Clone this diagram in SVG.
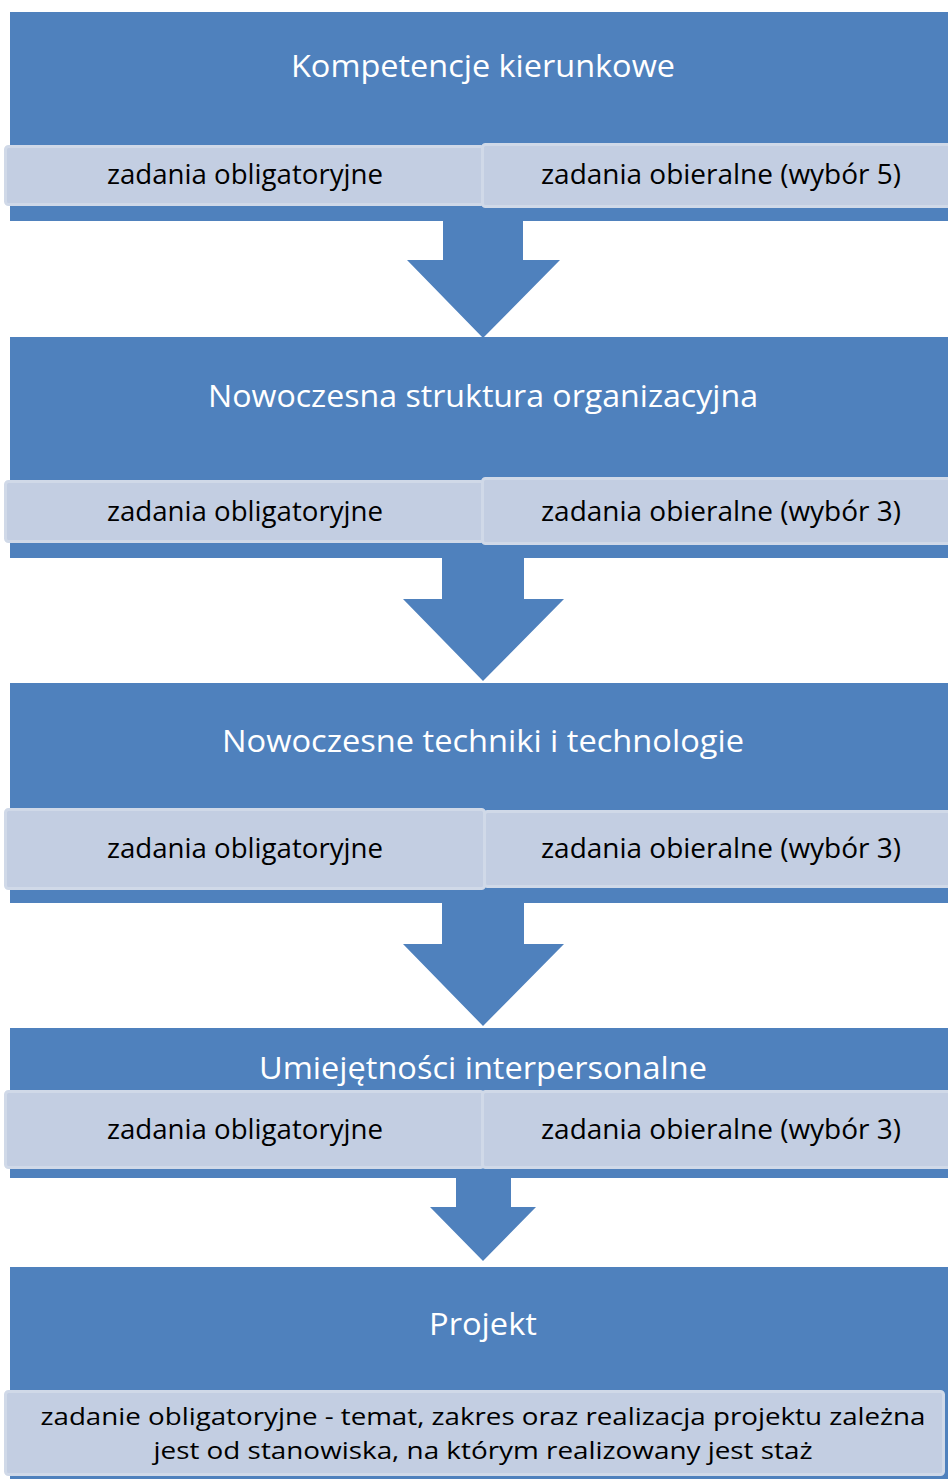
<svg xmlns="http://www.w3.org/2000/svg" width="948" height="1479" viewBox="0 0 948 1479">
<style>
.blk{fill:#4F81BD}
.sub{fill:#C3CEE2;stroke:#D0D9E8;stroke-width:3}
.arr{fill:#4F81BD}
.t{font-family:"Open Sans","Liberation Sans",sans-serif;fill:#FFFFFF;text-anchor:middle;font-size:31px}
.s{font-family:"Open Sans","Liberation Sans",sans-serif;fill:#000000;text-anchor:middle;font-size:27px}
.b{font-family:"Open Sans","Liberation Sans",sans-serif;fill:#000000;text-anchor:middle;font-size:24px}
</style>
<rect width="948" height="1479" fill="#FFFFFF"/>
<g id="connectors">
<path class="arr" d="M443,215 H523 V260 H560 L483,338 L407,260 H443 Z"/>
<path class="arr" d="M442,552 H524 V599 H564 L483,681 L403,599 H442 Z"/>
<path class="arr" d="M442,897 H524 V944 H564 L483,1026 L403,944 H442 Z"/>
<path class="arr" d="M456,1172 H511 V1207 H536 L483,1261 L430,1207 H456 Z"/>
</g>
<g id="block1">
<rect class="blk" x="10" y="12" width="945" height="209"/>
<text class="t" x="483" y="77" textLength="384" lengthAdjust="spacingAndGlyphs">Kompetencje kierunkowe</text>
<rect class="sub" x="5.5" y="146.5" width="478" height="58" rx="3"/>
<rect class="sub" x="482.5" y="144.5" width="470" height="62" rx="3"/>
<text class="s" x="245" y="184" textLength="276" lengthAdjust="spacingAndGlyphs">zadania obligatoryjne</text>
<text class="s" x="721" y="184" textLength="360" lengthAdjust="spacingAndGlyphs">zadania obieralne (wybór 5)</text>
</g>
<g id="block2">
<rect class="blk" x="10" y="337" width="945" height="221"/>
<text class="t" x="483" y="407" textLength="550" lengthAdjust="spacingAndGlyphs">Nowoczesna struktura organizacyjna</text>
<rect class="sub" x="5.5" y="481.5" width="478" height="60" rx="3"/>
<rect class="sub" x="482.5" y="478.5" width="470" height="65" rx="3"/>
<text class="s" x="245" y="521" textLength="276" lengthAdjust="spacingAndGlyphs">zadania obligatoryjne</text>
<text class="s" x="721" y="521" textLength="360" lengthAdjust="spacingAndGlyphs">zadania obieralne (wybór 3)</text>
</g>
<g id="block3">
<rect class="blk" x="10" y="683" width="945" height="220"/>
<text class="t" x="483" y="752" textLength="522" lengthAdjust="spacingAndGlyphs">Nowoczesne techniki i technologie</text>
<rect class="sub" x="484.5" y="811.5" width="468" height="75" rx="3"/>
<rect class="sub" x="5.5" y="809.5" width="479" height="79" rx="3"/>
<text class="s" x="245" y="858" textLength="276" lengthAdjust="spacingAndGlyphs">zadania obligatoryjne</text>
<text class="s" x="721" y="858" textLength="360" lengthAdjust="spacingAndGlyphs">zadania obieralne (wybór 3)</text>
</g>
<g id="block4">
<rect class="blk" x="10" y="1028" width="945" height="150"/>
<text class="t" x="483" y="1079" textLength="448" lengthAdjust="spacingAndGlyphs">Umiejętności interpersonalne</text>
<rect class="sub" x="5.5" y="1091.5" width="478" height="76" rx="3"/>
<rect class="sub" x="482.5" y="1091.5" width="470" height="76" rx="3"/>
<text class="s" x="245" y="1139" textLength="276" lengthAdjust="spacingAndGlyphs">zadania obligatoryjne</text>
<text class="s" x="721" y="1139" textLength="360" lengthAdjust="spacingAndGlyphs">zadania obieralne (wybór 3)</text>
</g>
<g id="block5">
<rect class="blk" x="10" y="1267" width="945" height="212"/>
<text class="t" x="483" y="1335" textLength="108" lengthAdjust="spacingAndGlyphs">Projekt</text>
<rect class="sub" x="5.5" y="1391.5" width="938" height="83" rx="3"/>
<text class="b" x="483" y="1425" textLength="885" lengthAdjust="spacingAndGlyphs">zadanie obligatoryjne - temat, zakres oraz realizacja projektu zależna</text>
<text class="b" x="483" y="1459" textLength="659" lengthAdjust="spacingAndGlyphs">jest od stanowiska, na którym realizowany jest staż</text>
</g>
</svg>
